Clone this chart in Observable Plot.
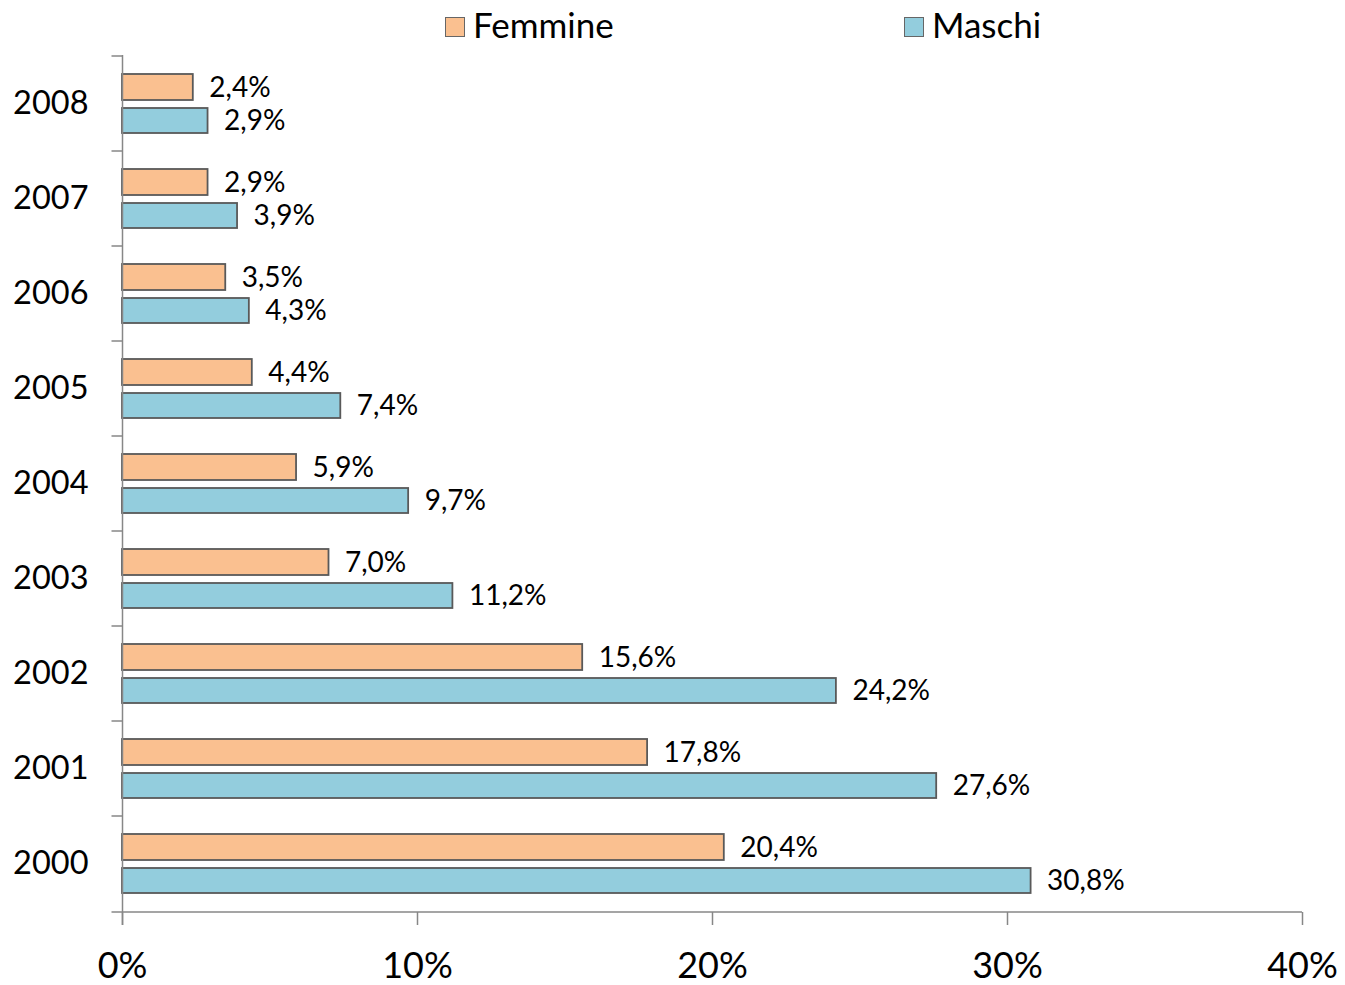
<!DOCTYPE html>
<html><head><meta charset="utf-8">
<script src="https://cdn.jsdelivr.net/npm/d3@7"></script>
<script src="https://cdn.jsdelivr.net/npm/@observablehq/plot@0.6"></script>
<style>
body{margin:0;background:#fff;font-family:Lato,sans-serif;}
#legend{position:relative;height:50px;width:1345px;}
.sw{position:absolute;top:17px;width:20px;height:20px;box-sizing:border-box;border:1.5px solid #666;}
.lt{position:absolute;top:4px;font-size:35px;line-height:40px;color:#000;white-space:nowrap;}
</style></head><body>
<div id="legend"></div><div id="chart"></div>
<script>
const years = ["2008","2007","2006","2005","2004","2003","2002","2001","2000"];
const femmine = [2.4, 2.9, 3.5, 4.4, 5.9, 7.0, 15.6, 17.8, 20.4];
const maschi  = [2.9, 3.9, 4.3, 7.4, 9.7, 11.2, 24.2, 27.6, 30.8];
const series = ["Femmine", "Maschi"];
const colors = ["#FAC090", "#93CDDD"];
const xTicks = [0, 10, 20, 30, 40];

const rowsF = years.map((y, i) => ({year: y, value: femmine[i]}));
const rowsM = years.map((y, i) => ({year: y, value: maschi[i]}));
const fmt = d => d.value.toFixed(1).replace(".", ",") + "%";

// legend
const legend = document.getElementById("legend");
const legendX = [445, 904];
series.forEach((s, i) => {
  const sw = document.createElement("div");
  sw.className = "sw"; sw.style.left = legendX[i] + "px"; sw.style.background = colors[i];
  legend.appendChild(sw);
  const t = document.createElement("div");
  t.className = "lt"; t.style.left = (legendX[i] + 28) + "px"; t.textContent = s;
  legend.appendChild(t);
});

const axisLines = (index, scales, values, dims) => {
  const g = d3.create("svg:g").attr("stroke", "#878787").attr("stroke-width", 1.5).attr("fill", "none");
  const x0 = dims.marginLeft + 0.5, x1 = dims.width - dims.marginRight;
  const yTop = dims.marginTop, yBot = dims.height - dims.marginBottom;
  g.append("line").attr("x1", x0).attr("x2", x0).attr("y1", yTop).attr("y2", yBot + 13);
  g.append("line").attr("x1", x0 - 11).attr("x2", x1).attr("y1", yBot).attr("y2", yBot);
  years.forEach(y => {
    const p = scales.y(y);
    g.append("line").attr("x1", x0 - 11).attr("x2", x0).attr("y1", p).attr("y2", p);
  });
  return g.node();
};

const chart = Plot.plot({
  width: 1345, height: 935,
  marginLeft: 122, marginRight: 43, marginTop: 5, marginBottom: 73,
  style: {fontFamily: "Lato, sans-serif", color: "#000", background: "white", overflow: "visible"},
  x: {domain: [0, 40]},
  y: {domain: years, padding: 0},
  marks: [
    Plot.barX(rowsF, {x: "value", y: "year", fill: colors[0], stroke: "#595959", strokeWidth: 1.8, insetTop: 18, insetBottom: 51}),
    Plot.barX(rowsM, {x: "value", y: "year", fill: colors[1], stroke: "#595959", strokeWidth: 1.8, insetTop: 52, insetBottom: 18}),
    Plot.text(rowsF, {x: "value", y: "year", text: fmt, dx: 16, dy: -16, textAnchor: "start", fontSize: 28, fill: "#000"}),
    Plot.text(rowsM, {x: "value", y: "year", text: fmt, dx: 16, dy: 17.5, textAnchor: "start", fontSize: 28, fill: "#000"}),
    axisLines,
    Plot.axisX({ticks: xTicks, tickFormat: d => d + "%", tickSize: 13, tickPadding: 27, fontSize: 36, stroke: "#878787", strokeWidth: 1.5, fill: "#000", label: null}),
    Plot.axisY({tickSize: 0, tickPadding: 34, fontSize: 32.5, fill: "#000", label: null})
  ]
});
document.getElementById("chart").appendChild(chart);
</script>
</body></html>
